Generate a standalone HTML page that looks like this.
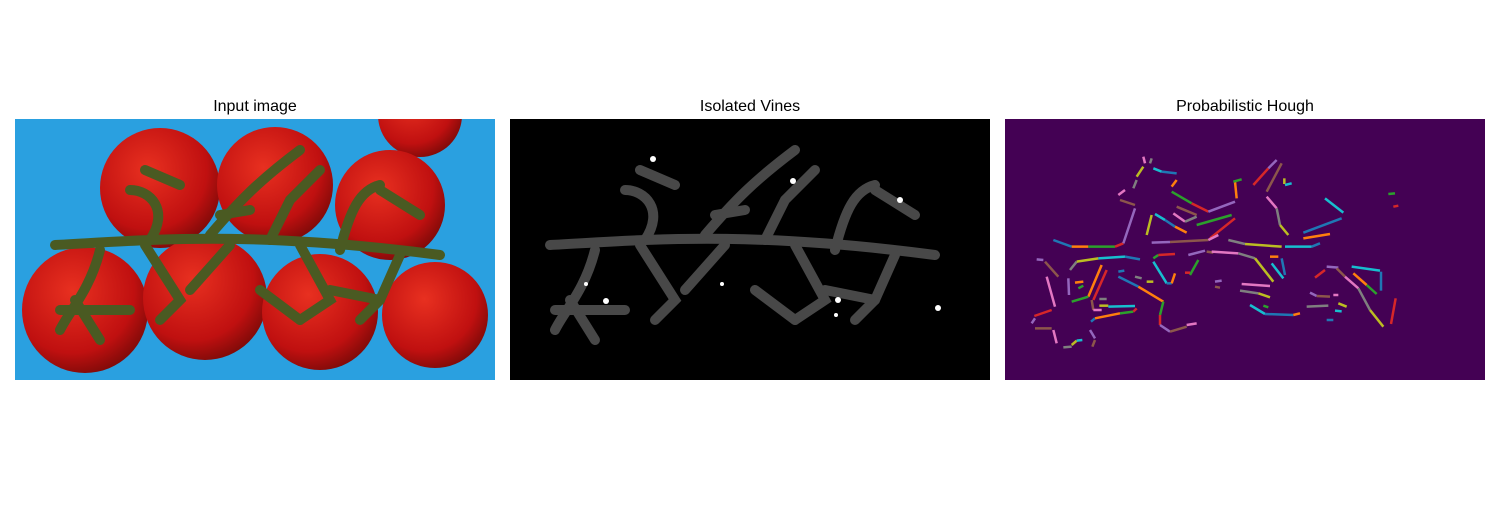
<!DOCTYPE html>
<html><head><meta charset="utf-8"><style>
body{margin:0;background:#fff;width:1500px;height:500px;overflow:hidden;font-family:"Liberation Sans","DejaVu Sans",sans-serif}
</style></head><body>
<svg id="fig" width="1500" height="500">
<defs>
<radialGradient id="tg" cx="0.4" cy="0.35" r="0.7"><stop offset="0" stop-color="#e83020"/><stop offset="0.7" stop-color="#c01010"/><stop offset="1" stop-color="#7a0a08"/></radialGradient>
<clipPath id="c1"><rect x="15" y="119" width="480" height="261"/></clipPath>
<clipPath id="c2"><rect x="510" y="119" width="480" height="261"/></clipPath>
</defs>
<text x="255" y="111" text-anchor="middle" font-size="16">Input image</text>
<text x="750" y="111" text-anchor="middle" font-size="16">Isolated Vines</text>
<text x="1245" y="111" text-anchor="middle" font-size="16">Probabilistic Hough</text>
<g clip-path="url(#c1)">
<rect x="15" y="119" width="480" height="261" fill="#2aa0e0"/>
<g fill="url(#tg)">
<circle cx="420" cy="115" r="42"/><circle cx="160" cy="188" r="60"/><circle cx="275" cy="185" r="58"/><circle cx="390" cy="205" r="55"/>
<circle cx="85" cy="310" r="63"/><circle cx="205" cy="298" r="62"/><circle cx="320" cy="312" r="58"/><circle cx="435" cy="315" r="53"/>
</g>
<g id="vine1" stroke="#4a5a22" fill="none" stroke-linecap="round" stroke-width="10"></g>
</g>
<g clip-path="url(#c2)">
<rect x="510" y="119" width="480" height="261" fill="#000"/>
<g id="vine2" stroke="#484848" fill="none" stroke-linecap="round" stroke-width="10"></g>
<g fill="#fff"><circle cx="653" cy="159" r="3"/><circle cx="793" cy="181" r="3"/><circle cx="900" cy="200" r="3"/><circle cx="586" cy="284" r="2"/><circle cx="606" cy="301" r="3"/><circle cx="722" cy="284" r="2"/><circle cx="838" cy="300" r="3"/><circle cx="836" cy="315" r="2"/><circle cx="938" cy="308" r="3"/></g>
</g>
<rect x="1005" y="119" width="480" height="261" fill="#440154"/>
<g id="hough"></g>
</svg>
<script>
const vinePaths=[
"M55,245 C150,240 250,230 440,255","M100,250 C90,290 70,310 60,330","M75,300 L100,340","M150,240 C170,210 150,190 130,190",
"M145,245 L180,300 L160,320","M210,235 C240,200 260,180 300,150","M250,210 L220,215","M270,240 L290,200 L320,170",
"M300,245 L330,300 L300,320","M340,250 C350,210 360,190 380,185","M380,190 L420,215","M230,245 L190,290",
"M400,255 L380,300 L360,320","M145,170 L180,185","M60,310 L130,310","M260,290 L300,320","M330,290 L380,300"];
const vineShift=[0,495];
["vine1","vine2"].forEach((id,i)=>{const g=document.getElementById(id);
vinePaths.forEach(d=>{const p=document.createElementNS("http://www.w3.org/2000/svg","path");
p.setAttribute("d",d);p.setAttribute("transform","translate("+vineShift[i]+",0)");


g.appendChild(p);});});

const colors=["#1f77b4","#ff7f0e","#2ca02c","#d62728","#9467bd","#8c564b","#e377c2","#7f7f7f","#bcbd22","#17becf"];
const segX1=[145,200,250,330,355,345,340,385,395,445,470,500,500,560,610,515,505,540,440,450,480,510,575,615,440,495,610,670,720,840,920,690,685,745,790,785,785,815,825,960,895,895,1150,1165,95,120,125,195,215,280,360,290,250,305,190,260,265,283,283,310,340,400,475,465,465,495,545,390,425,445,485,500,445,460,550,605,620,700,750,800,830,795,555,540,630,630,710,705,760,735,780,865,775,930,965,995,1020,1060,1095,1040,1128,1045,1085,1172,915,935,985,905,1000,990,965,210,220,88,80,90,145,175,200,215,258,270,345,385,255,270,420,435,838,840,340];
const segY1=[300,320,320,320,310,180,165,145,110,85,95,140,155,190,215,200,220,245,225,222,240,260,255,295,308,306,300,300,312,320,320,125,125,135,85,155,170,205,255,175,278,295,162,200,358,365,410,390,365,355,350,375,470,390,415,480,510,477,497,500,410,440,485,525,555,575,555,410,425,365,430,430,355,345,345,335,335,340,355,370,355,350,405,398,425,440,432,452,460,495,522,525,497,413,380,385,410,445,510,380,395,400,435,475,458,468,465,500,490,512,540,428,445,528,550,565,570,622,615,602,545,535,520,515,570,600,70,70,115,135,395];
const segX2=[200,250,330,355,390,390,360,395,415,470,515,515,560,610,690,575,540,575,425,480,510,545,680,690,495,610,640,720,830,920,945,695,710,790,815,830,815,825,850,1015,1010,975,1170,1180,115,160,150,215,280,360,405,250,200,265,192,265,290,305,310,390,400,475,465,465,495,545,575,410,445,485,500,510,460,510,600,625,700,750,805,835,840,820,580,555,650,645,795,760,795,780,865,885,790,960,1000,1020,1060,1095,1135,1125,1128,1085,1115,1158,935,975,1000,970,1025,1010,985,235,235,140,90,140,155,200,215,232,270,345,385,395,270,262,415,440,838,860,358];
const segY2=[320,320,320,310,205,195,150,120,80,95,100,120,190,215,185,225,245,230,285,240,260,278,225,235,306,300,285,312,320,320,310,175,118,85,60,70,205,255,285,218,235,282,160,197,360,410,500,365,355,350,358,470,485,480,465,510,510,477,497,498,440,485,525,555,575,560,550,415,425,430,430,400,345,342,332,338,340,355,425,415,405,350,360,398,422,443,438,460,472,522,525,520,502,390,383,410,445,510,560,392,452,435,462,552,468,470,465,497,500,514,540,425,437,510,535,565,610,620,602,600,535,520,515,505,595,620,50,55,132,130,392];
const hx=z=>1005+z/3, hy=z=>140+z/3;
const hg=document.getElementById("hough");
segX1.forEach((x,i)=>{const l=document.createElementNS("http://www.w3.org/2000/svg","line");
l.setAttribute("x1",hx(x));l.setAttribute("y1",hy(segY1[i]));l.setAttribute("x2",hx(segX2[i]));l.setAttribute("y2",hy(segY2[i]));
l.setAttribute("stroke",colors[i%10]);l.setAttribute("stroke-width","2.5");


hg.appendChild(l);});
</script>
</body></html>
